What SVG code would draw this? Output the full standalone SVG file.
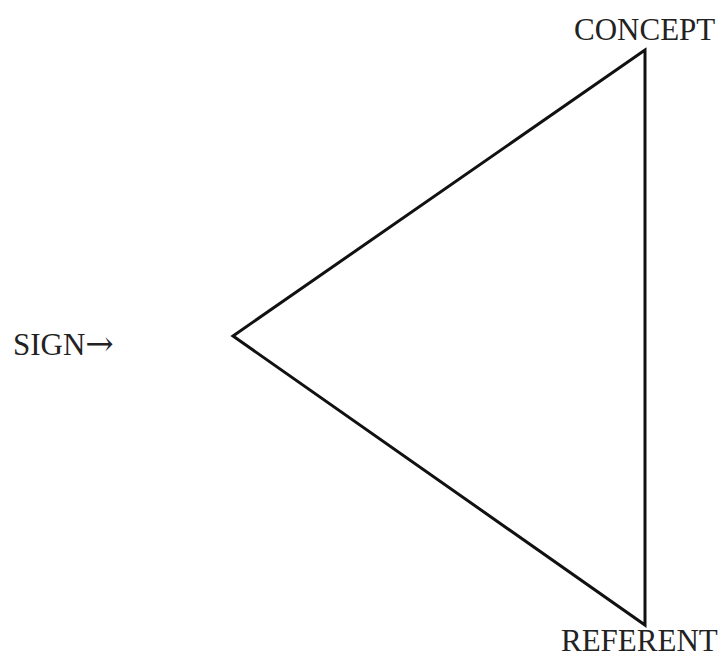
<svg xmlns="http://www.w3.org/2000/svg" width="722" height="658" viewBox="0 0 722 658">
<style>
.lbl{font-family:"Liberation Serif","Times New Roman",serif;font-size:31px;fill:#222}
.arr{font-family:"DejaVu Serif",serif;font-size:34px}
.edge{fill:none;stroke:#111;stroke-width:3;stroke-linejoin:miter}
</style>
<rect width="722" height="658" fill="#fff"/>
<g id="connectors">
<polygon class="edge" points="645,50 233,336 645,625"/>
</g>
<g id="concept"><text class="lbl" x="574" y="40">CONCEPT</text></g>
<g id="sign"><text class="lbl" x="13" y="355">SIGN<tspan class="arr">→</tspan></text></g>
<g id="referent"><text class="lbl" x="561" y="651">REFERENT</text></g>
</svg>
